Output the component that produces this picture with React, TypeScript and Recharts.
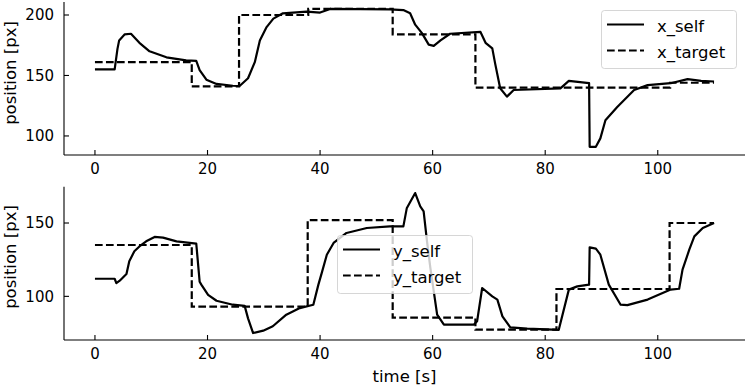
import { LineChart, Line, XAxis, YAxis } from 'recharts'

// Two stacked panels: tracked position vs. target, x on top, y below.

const X_TICKS = [0, 20, 40, 60, 80, 100]
const TOP_Y_TICKS = [100, 150, 200]
const BOTTOM_Y_TICKS = [100, 150]

// x_self — sampled off the trace
const X_SELF_T = [0, 3.5, 4.0, 4.3, 5.3, 6.4, 7.9, 9.7, 12.7, 16.2, 18.0, 18.6, 19.8, 21.6, 24.5, 25.7, 27.2, 28.4, 29.3, 30.5, 31.7, 33.4, 37.6, 40.0, 41.8, 52.4, 54.8, 56.0, 56.9, 58.1, 59.3, 60.2, 61.4, 63.1, 68.5, 69.4, 70.6, 71.1, 72.0, 73.2, 74.4, 82.7, 84.2, 87.8, 87.9, 89.0, 89.8, 90.7, 92.8, 95.8, 98.2, 102.3, 105.3, 107.7, 110]
const X_SELF = [155, 155, 172, 179, 184, 184.5, 177, 170, 165, 162.5, 162, 154.5, 146.5, 143, 141.5, 141.3, 147.7, 161, 179, 190, 197, 201.4, 202.8, 202, 205, 204.7, 204.1, 201.4, 192, 185, 175.5, 174.5, 179, 184.5, 186, 177, 172.4, 160, 139.4, 132.5, 138, 139.4, 145.5, 143.6, 91, 91, 98, 113, 124, 138, 142, 143.6, 147, 145.5, 145]

// x_target — step corners
const X_TARGET_T = [0, 17.2, 17.2, 25.6, 25.6, 37.9, 37.9, 52.9, 52.9, 67.6, 67.6, 102.2, 102.2, 110]
const X_TARGET = [161, 161, 141, 141, 200, 200, 205, 205, 184, 184, 140, 140, 144, 144]

// y_self
const Y_SELF_T = [0, 3.5, 3.8, 4.4, 5.6, 6.1, 7.0, 7.9, 9.1, 10.6, 12.1, 14.5, 18.0, 18.6, 18.9, 20.1, 21.6, 24.5, 26.6, 27.2, 28.1, 29.9, 31.6, 34.0, 36.4, 38.8, 39.7, 40.3, 41.2, 42.4, 44.7, 48.3, 52.4, 54.8, 55.4, 56.9, 57.8, 58.4, 59.0, 59.6, 60.8, 62.0, 67.3, 67.9, 68.8, 70.6, 71.5, 72.4, 73.8, 76.8, 82.4, 84.2, 85.7, 87.8, 87.9, 89.0, 89.8, 91.3, 93.4, 94.6, 98.2, 102.3, 103.8, 104.4, 105.6, 106.5, 108.0, 110]
const Y_SELF = [112, 112, 109, 110.7, 115.3, 124, 130.7, 134, 137.5, 140.5, 140, 137.5, 136, 110, 108, 101, 97, 94.3, 93.5, 85, 75, 76.6, 79.6, 87.5, 92, 94.3, 108, 116, 128.4, 136.4, 143.2, 146.6, 147.7, 147.7, 160, 170.4, 161.3, 158, 137.5, 119.3, 87.5, 80.7, 80.7, 83, 105.7, 100, 97.8, 86.4, 78.9, 78, 77.1, 104.6, 106.8, 108, 133.4, 132.5, 128.4, 108, 94.3, 94, 97.8, 104.6, 105.2, 118.2, 131.8, 140.9, 146.6, 150]

// y_target
const Y_TARGET_T = [0, 17.2, 17.2, 37.8, 37.8, 52.9, 52.9, 67.6, 67.6, 82, 82, 102.1, 102.1, 110]
const Y_TARGET = [135, 135, 93, 93, 152, 152, 85.5, 85.5, 77.3, 77.3, 105, 105, 150, 150]

const FONT = '"DejaVu Sans", sans-serif'
const INK = '#000'

const zip = (t: number[], v: number[]) => t.map((tt, i) => ({ t: tt, v: v[i] }))

function XTick(props: any) {
  const { x, y, payload } = props
  return (
    <g>
      <line x1={x} x2={x} y1={y} y2={y - 5} stroke={INK} strokeWidth={1.1} />
      <text x={x} y={y + 19} textAnchor="middle" fontSize={15} fontFamily={FONT} fill={INK}>{payload.value}</text>
    </g>
  )
}

function YTick(props: any) {
  const { x, y, payload } = props
  return (
    <g>
      <line x1={x} x2={x + 5} y1={y} y2={y} stroke={INK} strokeWidth={1.1} />
      <text x={x - 10} y={y} dy="0.36em" textAnchor="end" fontSize={15} fontFamily={FONT} fill={INK}>{payload.value}</text>
    </g>
  )
}

function Panel({ top, height, marginTop, xAxisHeight, yDomain, yTicks, self, target, labelY, xLabel }: {
  top: number; height: number; marginTop: number; xAxisHeight: number
  yDomain: [number, number]; yTicks: number[]
  self: { t: number; v: number }[]; target: { t: number; v: number }[]
  labelY: number; xLabel?: string
}) {
  return (
    <div style={{ position: 'absolute', left: 0, top }}>
      <LineChart width={747} height={height} margin={{ top: marginTop, right: 2, bottom: 0, left: 0 }}>
        <XAxis
          type="number" dataKey="t" domain={[-5.5, 115.5]} ticks={X_TICKS} allowDataOverflow interval={0}
          height={xAxisHeight} tickSize={0} tickMargin={0} tickLine={false} tick={XTick}
          axisLine={{ stroke: INK, strokeWidth: 1.1 }}
          label={xLabel ? {
            content: (p: any) => (
              <text x={p.viewBox.x + p.viewBox.width / 2} y={p.viewBox.y + 42} textAnchor="middle"
                fontSize={16.5} fontFamily={FONT} fill={INK}>{xLabel}</text>
            ),
          } : undefined}
        />
        <YAxis
          type="number" domain={yDomain} ticks={yTicks} allowDataOverflow interval={0}
          width={64} tickSize={0} tickMargin={0} tickLine={false} tick={YTick}
          axisLine={{ stroke: INK, strokeWidth: 1.1 }}
          label={{
            content: () => (
              <text x={10.5} y={labelY} transform={`rotate(-90 10.5 ${labelY})`} textAnchor="middle"
                dominantBaseline="central" fontSize={16.5} fontFamily={FONT} fill={INK}>position [px]</text>
            ),
          }}
        />
        <Line data={self} dataKey="v" type="linear" stroke={INK} strokeWidth={2.2} dot={false}
          strokeLinejoin="round" isAnimationActive={false} />
        <Line data={target} dataKey="v" type="linear" stroke={INK} strokeWidth={2.2} dot={false}
          strokeDasharray="7.7 3.3" isAnimationActive={false} />
      </LineChart>
    </div>
  )
}

function LegendBox({ x, y, names }: { x: number; y: number; names: [string, string] }) {
  return (
    <g>
      <rect x={x + 0.5} y={y + 0.5} width={135} height={58} rx={3}
        fill="rgba(255,255,255,0.8)" stroke="rgba(204,204,204,0.8)" strokeWidth={1} />
      <line x1={x + 6} x2={x + 43} y1={y + 14.5} y2={y + 14.5} stroke={INK} strokeWidth={2.2} />
      <line x1={x + 6} x2={x + 43} y1={y + 40.5} y2={y + 40.5} stroke={INK} strokeWidth={2.2} strokeDasharray="7.7 3.3" />
      <text x={x + 56} y={y + 21.5} fontSize={16.5} fontFamily={FONT} fill={INK}>{names[0]}</text>
      <text x={x + 56} y={y + 47.5} fontSize={16.5} fontFamily={FONT} fill={INK}>{names[1]}</text>
    </g>
  )
}

export default function App() {
  return (
    <div style={{ position: 'absolute', left: 0, top: 0, width: 747, height: 387, background: '#fff' }}>
      <Panel top={0} height={183} marginTop={2} xAxisHeight={28}
        yDomain={[84.25, 210.75]} yTicks={TOP_Y_TICKS}
        self={zip(X_SELF_T, X_SELF)} target={zip(X_TARGET_T, X_TARGET)} labelY={73} />
      <Panel top={175} height={212} marginTop={11.7} xAxisHeight={47}
        yDomain={[70.25, 174.75]} yTicks={BOTTOM_Y_TICKS}
        self={zip(Y_SELF_T, Y_SELF)} target={zip(Y_TARGET_T, Y_TARGET)} labelY={82} xLabel="time [s]" />
      <svg width={747} height={387} style={{ position: 'absolute', left: 0, top: 0, pointerEvents: 'none' }}>
        <LegendBox x={601} y={10} names={['x_self', 'x_target']} />
        <LegendBox x={337} y={235} names={['y_self', 'y_target']} />
      </svg>
    </div>
  )
}
